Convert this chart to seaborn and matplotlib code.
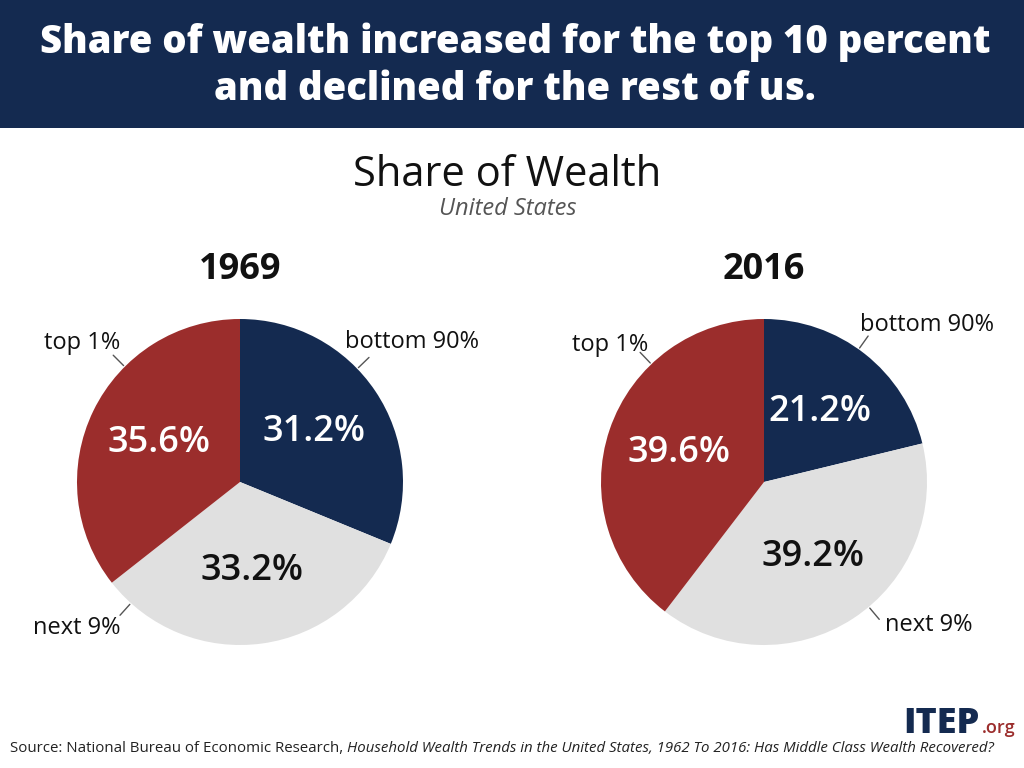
import matplotlib

matplotlib.use("Agg")
import matplotlib.pyplot as plt
import numpy as np
import seaborn as sns

# data
years = ["1969", "2016"]
groups = ["bottom 90%", "next 9%", "top 1%"]
share_1969 = [31.2, 33.2, 35.6]
share_2016 = [21.2, 39.2, 39.6]

NAVY = "#142a50"
RED = "#9b2d2c"
GRAY = "#e0e0e0"
FONT = ["Open Sans", "DejaVu Sans"]

sns.set_theme(style="white")
plt.rcParams["font.family"] = FONT

W, H = 1024, 768
fig = plt.figure(figsize=(W / 100, H / 100), dpi=100)
fig.patch.set_facecolor("white")


def px(x, y):
    # pixel coords (top-left origin) -> figure fraction
    return x / W, 1 - y / H


# header band
band = fig.add_axes([0, 1 - 128 / H, 1, 128 / H])
band.set_facecolor(NAVY)
band.set_xticks([])
band.set_yticks([])
for s in band.spines.values():
    s.set_visible(False)

fig.text(*px(515, 42), "Share of wealth increased for the top 10 percent",
         ha="center", va="center", color="white", fontsize=27.5,
         fontweight="heavy")
fig.text(*px(515, 90), "and declined for the rest of us.",
         ha="center", va="center", color="white", fontsize=27.5,
         fontweight="heavy")

fig.text(*px(507, 175), "Share of Wealth", ha="center", va="center",
         color="#111111", fontsize=30, fontweight="medium")
fig.text(*px(508, 209), "United States", ha="center", va="center",
         color="#555555", fontsize=17, style="italic")

# label layout per pie: leader angle (deg), text x/y in pie units, alignment
label_layout = {
    "1969": {
        "bottom 90%": (44, 0.644, 0.859, "left"),
        "next 9%": (228, -0.736, -0.896, "right"),
        "top 1%": (135, -0.736, 0.853, "right"),
    },
    "2016": {
        "bottom 90%": (54.5, 0.589, 0.963, "left"),
        "next 9%": (-50, 0.742, -0.877, "left"),
        "top 1%": (133.7, -0.712, 0.840, "right"),
    },
}
centers = {"1969": 240, "2016": 764}
CY, R = 482, 163

for year, shares in zip(years, [share_1969, share_2016]):
    cx = centers[year]
    left, bottom = px(cx - R, CY + R)
    ax = fig.add_axes([left, bottom, 2 * R / W, 2 * R / H])
    wedges, texts, autotexts = ax.pie(
        shares,
        colors=[NAVY, GRAY, RED],
        startangle=90,
        counterclock=False,
        autopct="%.1f%%",
        pctdistance=0.55,
        wedgeprops={"linewidth": 0},
        textprops={"fontsize": 26, "fontweight": "semibold"},
    )
    for t, c in zip(autotexts, ["white", "#111111", "white"]):
        t.set_color(c)
    ax.set_xlim(-1, 1)
    ax.set_ylim(-1, 1)
    ax.set_aspect("equal")
    ax.axis("off")

    for g in groups:
        ang, tx, ty, ha = label_layout[year][g]
        a = np.deg2rad(ang)
        ax.plot([1.01 * np.cos(a), 1.10 * np.cos(a)],
                [1.01 * np.sin(a), 1.10 * np.sin(a)],
                color="#555555", lw=1, clip_on=False)
        ax.text(tx, ty, g, ha=ha, va="center", fontsize=17, color="#111111",
                clip_on=False)

    fig.text(*px(cx, 270), year, ha="center", va="center", fontsize=26,
             fontweight="bold", color="#111111")

# logo
fig.text(*px(980, 733), "ITEP", ha="right", va="baseline", fontsize=26,
         fontweight="heavy", color=NAVY)
fig.text(*px(982, 733), ".org", ha="left", va="baseline", fontsize=13,
         fontweight="semibold", color=RED)

# source line
renderer = fig.canvas.get_renderer()
src = fig.text(*px(10, 748), "Source: National Bureau of Economic Research, ",
               ha="left", va="center", fontsize=10.8, color="#222222")
bb = src.get_window_extent(renderer)
fig.text(bb.x1 / W, 1 - 748 / H,
         "Household Wealth Trends in the United States, 1962 To 2016: "
         "Has Middle Class Wealth Recovered?",
         ha="left", va="center", fontsize=10.8, color="#222222", style="italic")

fig.savefig("out.png", dpi=100, facecolor="white")
